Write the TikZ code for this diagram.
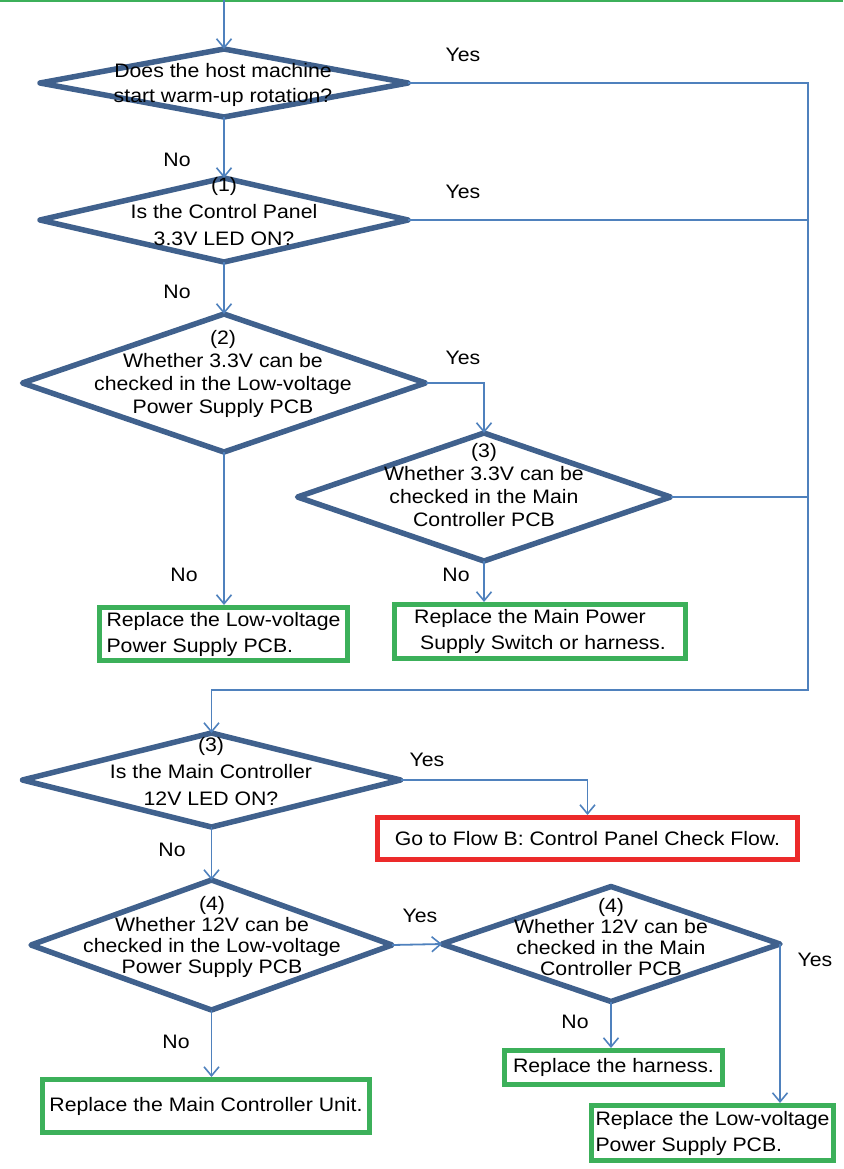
\documentclass[tikz,border=0pt]{standalone}
\usepackage{fontspec}
\setmainfont{Liberation Sans}[FakeStretch=1.09]
\usepackage{tikz}
\usetikzlibrary{positioning}
\usetikzlibrary{shapes.geometric}
\usetikzlibrary{arrows.meta}

\definecolor{qblue}{RGB}{64,97,141}
\definecolor{lnblue}{RGB}{79,129,189}
\definecolor{okgreen}{RGB}{60,176,90}
\definecolor{flowred}{RGB}{236,42,42}

\tikzset{
  question/.style={diamond,draw=qblue,line width=5.5pt,line join=round,inner sep=0pt,outer sep=0pt,fill=white},
  qtext/.style={align=center,inner sep=0pt,font=\fontsize{19.5}{23}\selectfont},
  fixbox/.style={rectangle,draw=okgreen,line width=5pt,fill=white,align=left,inner sep=0pt,outer sep=2.5pt,
    font=\fontsize{19.5}{26}\selectfont},
  gobox/.style={fixbox,draw=flowred},
  link/.style={draw=lnblue,line width=1.8pt},
  flow/.style={link,-{Straight Barb[length=9pt,width=15pt,line width=1.6pt]}},
  answer/.style={font=\fontsize{19.5}{23}\selectfont,inner sep=0pt}
}

\begin{document}
\begin{tikzpicture}[x=1pt,y=-1pt]
 \useasboundingbox (0,0) rectangle (843,1169);
 \draw[okgreen,line width=4pt] (0,0) -- (843,0);

 % questions
 \node[question,minimum width=368pt,minimum height=68pt] (q1) at (224,83) {};
 \node[qtext,font=\fontsize{19.5}{25}\selectfont] at (223,85) {Does the host machine\\start warm-up rotation?};
 \node[question,minimum width=368pt,minimum height=84pt] (q2) at (224,220) {};
 \node[qtext,font=\fontsize{19.5}{27}\selectfont] at (224,212) {(1)\\Is the Control Panel\\3.3V LED ON?};
 \node[question,minimum width=403pt,minimum height=138pt] (q3) at (224,383) {};
 \node[qtext] at (223,374) {(2)\\Whether 3.3V can be\\checked in the Low-voltage\\Power Supply PCB};
 \node[question,minimum width=373pt,minimum height=128pt] (q4) at (484,497) {};
 \node[qtext] at (484,485) {(3)\\Whether 3.3V can be\\checked in the Main\\Controller PCB};
 \node[question,minimum width=378pt,minimum height=94pt] (q5) at (211.5,780) {};
 \node[qtext,font=\fontsize{19.5}{27}\selectfont] at (211,772) {(3)\\Is the Main Controller\\12V LED ON?};
 \node[question,minimum width=361pt,minimum height=130pt] (q6) at (211.5,945) {};
 \node[qtext,font=\fontsize{19.5}{21}\selectfont] at (212,937) {(4)\\Whether 12V can be\\checked in the Low-voltage\\Power Supply PCB};
 \node[question,minimum width=338pt,minimum height=115pt] (q7) at (611,944) {};
 \node[qtext,font=\fontsize{19.5}{21}\selectfont] at (611,937) {(4)\\Whether 12V can be\\checked in the Main\\Controller PCB};

 % results
 \node[fixbox,minimum width=248pt,minimum height=53pt] (fix1) at (223.5,634) {Replace the Low-voltage\\Power Supply PCB.};
 \node[fixbox,minimum width=291pt,minimum height=54pt] (fix2) at (540,631.5) {Replace the Main Power\\\ Supply Switch or harness.};
 \node[gobox,minimum width=420pt,minimum height=42pt] (goB) at (587.5,838.5) {Go to Flow B: Control Panel Check Flow.};
 \node[fixbox,minimum width=327pt,minimum height=53pt] (fix3) at (206,1106) {Replace the Main Controller Unit.};
 \node[fixbox,minimum width=218pt,minimum height=34pt] (fix4) at (613.5,1067.5) {Replace the harness.};
 \node[fixbox,minimum width=242pt,minimum height=55pt] (fix5) at (712.5,1133) {Replace the Low-voltage\\Power Supply PCB.};

 \coordinate (entry) at (224,0);
 \coordinate (railend) at (808,690);

 % connectors
 \draw[flow] (entry) -- (q1.north);
 \draw[flow] (q1.south) -- (q2.north);
 \draw[flow] (q2.south) -- (q3.north);
 \draw[flow] (q3.east) -| (q4.north);
 \draw[flow] (q3.south) -- (q3.south |- fix1.north);
 \draw[flow] (q4.south) -- (q4.south |- fix2.north);
 \draw[flow] (q1.east) -| (railend) -| (q5.north);
 \draw[link] (q2.east) -- (q2.east -| railend);
 \draw[link] (q4.east) -- (q4.east -| railend);
 \draw[flow] (q5.east) -| (goB.north);
 \draw[flow] (q5.south) -- (q6.north);
 \draw[flow] (q6.east) -- (q7.west);
 \draw[flow] (q6.south) -- (q6.south |- fix3.north);
 \draw[flow] (q7.south) -- (q7.south |- fix4.north);
 \draw[flow] (q7.east) -- (q7.east |- fix5.north);

 % answers
 \node[answer] (y1) at (463,55) {Yes};
 \node[answer] (n1) at (177,160) {No};
 \node[answer] (y2) at (463,192) {Yes};
 \node[answer] (n2) at (177,292) {No};
 \node[answer] (y3) at (463,358) {Yes};
 \node[answer] (n3) at (184,575) {No};
 \node[answer] (n4) at (456,575) {No};
 \node[answer] (y5) at (427,760) {Yes};
 \node[answer] (n5) at (172,850) {No};
 \node[answer] (y6) at (420,916) {Yes};
 \node[answer] (y7) at (815,960) {Yes};
 \node[answer] (n7) at (575,1022) {No};
 \node[answer] (n6) at (176,1042) {No};
\end{tikzpicture}
\end{document}
